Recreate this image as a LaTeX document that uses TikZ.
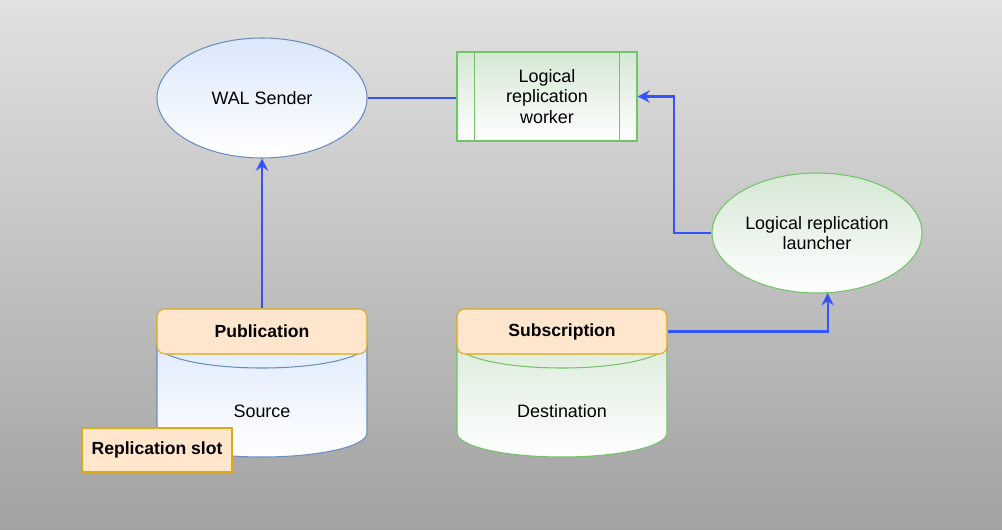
\documentclass[tikz,border=0pt]{standalone}
\usepackage{fontspec}
\setmainfont{Liberation Sans}
\usetikzlibrary{shapes.geometric, positioning, arrows.meta}

\definecolor{bluefill}{HTML}{DAE8FC}
\definecolor{bluestroke}{HTML}{6C8EBF}
\definecolor{greenfill}{HTML}{D5E8D4}
\definecolor{greenstroke}{RGB}{115,195,105}
\definecolor{headfill}{HTML}{FFE6CC}
\definecolor{headstroke}{RGB}{220,170,20}
\definecolor{linkblue}{RGB}{51,85,255}
\definecolor{bgtop}{HTML}{E1E1E1}
\definecolor{bgbottom}{HTML}{A2A2A2}

\tikzset{
    bluenode/.style={
        top color=bluefill, bottom color=white, draw=bluestroke, line width=0.6pt
    },
    greennode/.style={
        top color=greenfill, bottom color=white, draw=greenstroke, line width=0.6pt
    },
    header/.style={
        rectangle, rounded corners=0.16cm, minimum width=4.2cm, minimum height=0.9cm,
        text centered, draw=headstroke, fill=headfill, line width=0.6pt, font=\bfseries
    },
    link/.style={
        draw=linkblue, line width=1.15pt
    },
    arrow/.style={
        link, -{Stealth[length=7pt, width=7pt, inset=2.5pt]}
    }
}

\begin{document}
\begin{tikzpicture}[font=\fontsize{10.2}{11.7}\selectfont]

            % Background
            \fill[top color=bgtop, bottom color=bgbottom] (0,0) rectangle (20.04,-10.6);

            % Upper row
            \node[ellipse, bluenode, inner sep=0pt, minimum width=4.2cm, minimum height=2.4cm] (wal) at (5.24,-1.96) {WAL Sender};
            \node[rectangle, greennode, align=center, minimum width=3.6cm, minimum height=1.78cm] (worker) at (10.94,-1.93) {Logical\\replication\\worker};
            \draw[greenstroke, line width=0.6pt] ([xshift=0.36cm]worker.north west) -- ([xshift=0.36cm]worker.south west);
            \draw[greenstroke, line width=0.6pt] ([xshift=-0.36cm]worker.north east) -- ([xshift=-0.36cm]worker.south east);
            \node[ellipse, greennode, inner sep=0pt, align=center, minimum width=4.2cm, minimum height=2.4cm] (launcher) at (16.34,-4.66) {Logical replication\\launcher};

            % Source database
            \path[bluenode] (3.14,-6.88) -- (3.14,-8.66) arc[start angle=180, end angle=360, x radius=2.1, y radius=0.48]
                -- (7.34,-6.88) arc[start angle=0, end angle=180, x radius=2.1, y radius=0.48] -- cycle;
            \draw[bluestroke, line width=0.6pt] (3.14,-6.88) arc[start angle=180, end angle=360, x radius=2.1, y radius=0.48];
            \node (source) at (5.24,-8.22) {Source};
            \node[header] (pub) at (5.24,-6.63) {Publication};
            \node[rectangle, draw=headstroke, fill=headfill, line width=0.6pt, font=\bfseries, minimum width=3cm, minimum height=0.88cm] (slot) at (3.14,-9.0) {Replication slot};

            % Destination database
            \path[greennode] (9.14,-6.88) -- (9.14,-8.66) arc[start angle=180, end angle=360, x radius=2.1, y radius=0.48]
                -- (13.34,-6.88) arc[start angle=0, end angle=180, x radius=2.1, y radius=0.48] -- cycle;
            \draw[greenstroke, line width=0.6pt] (9.14,-6.88) arc[start angle=180, end angle=360, x radius=2.1, y radius=0.48];
            \node (dest) at (11.24,-8.22) {Destination};
            \node[header] (sub) at (11.24,-6.63) {Subscription};

            % Relationships
            \draw[arrow] (pub) -- (wal);
            \draw[link] (wal.east) -- (wal.east -| worker.west);
            \draw[arrow] (launcher.west) -- ++(-0.74,0) |- (worker.east);
            \draw[arrow] (sub.east) -| (launcher.280);

        \end{tikzpicture}
\end{document}
